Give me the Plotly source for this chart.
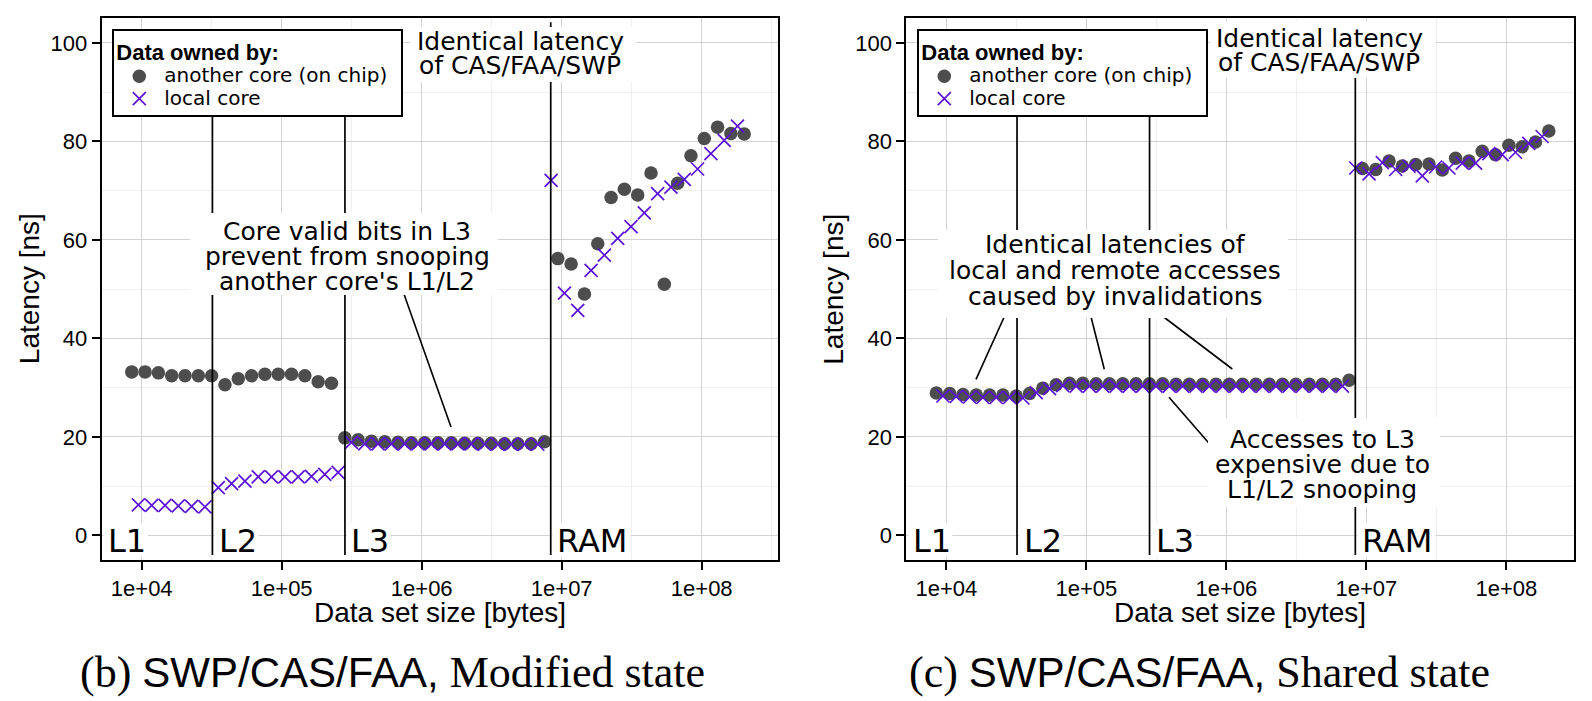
import math
import plotly.graph_objects as go

W, H = 1592, 701

# ---------------- data ----------------
# data set sizes [bytes] of the "another core" measurements (circles)
size_remote = [8490, 10570, 13160, 16380, 20390, 25380, 31590, 39330, 48960, 60940,
               75860, 94430, 117550, 146330, 182150, 226740, 282250, 351350, 437360, 544430,
               677720, 843630, 1050150, 1307230, 1627240, 2025590, 2521460, 3138720, 3907080,
               4863530, 6054120, 7536170, 9381020, 11677490, 14536130, 18094580, 22524130,
               28038040, 34901750, 43445500, 54080960, 67319980, 83800110, 104314400,
               129850600, 161637900, 201206800]
# data set sizes [bytes] of the "local core" measurements (crosses)
size_local = [9470, 11790, 14680, 18270, 22740, 28310, 35240, 43870, 54610, 67970,
              84610, 105330, 131110, 163200, 203150, 252890, 314800, 391860, 487780, 607200,
              755840, 940860, 1171170, 1457880, 1814780, 2259040, 2812040, 3500460, 4357340,
              5424030, 6751920, 8404680, 10462200, 13023000, 16211000, 20179500, 25119400,
              31268600, 38923000, 48451600, 60313300, 75077500, 93455400, 116334000,
              144813000, 180262000]

# (b) Modified state, latency [ns]
mod_remote = [33.2, 33.2, 33.0, 32.4, 32.4, 32.4, 32.4,
              30.6, 31.8, 32.4, 32.7, 32.7, 32.7, 32.4, 31.2, 30.9,
              19.8, 19.4, 19.1, 19.0, 18.9, 18.8, 18.8, 18.8, 18.8, 18.7, 18.7, 18.7, 18.6, 18.6, 18.6, 19.0,
              56.2, 55.1, 49.0, 59.2, 68.6, 70.3, 69.1, 73.6, 51.0, 71.5, 77.1, 80.6, 82.9, 81.6, 81.5]
mod_local = [6.2, 6.1, 6.1, 6.0, 5.9, 5.8,
             9.7, 10.5, 11.0, 11.9, 11.9, 11.9, 11.9, 12.0, 12.4, 12.8,
             18.9, 18.6, 18.6, 18.6, 18.6, 18.6, 18.6, 18.6, 18.6, 18.6, 18.5, 18.5, 18.5, 18.5, 18.5,
             72.1, 49.2, 45.7, 53.8, 56.9, 60.3, 62.7, 65.5, 69.4, 70.7, 72.3, 74.4, 77.5, 80.2, 83.1]

# (c) Shared state, latency [ns]
sh_remote = [28.9, 28.8, 28.6, 28.5, 28.5, 28.5, 28.3,
             28.8, 29.9, 30.6, 30.9, 30.9, 30.8, 30.8, 30.8, 30.8,
             30.8, 30.8, 30.7, 30.7, 30.7, 30.7, 30.7, 30.7, 30.7, 30.7, 30.7, 30.7, 30.7, 30.7, 30.7, 31.5,
             74.5, 74.3, 76.0, 75.0, 75.3, 75.4, 74.2, 76.6, 76.0, 78.0, 77.3, 79.2, 78.9, 79.9, 82.1]
sh_local = [28.3, 28.2, 28.1, 28.0, 28.0, 28.0,
            27.9, 29.0, 29.8, 30.4, 30.3, 30.3, 30.3, 30.3, 30.3, 30.3,
            30.3, 30.3, 30.3, 30.3, 30.3, 30.3, 30.3, 30.3, 30.3, 30.3, 30.3, 30.3, 30.3, 30.3, 30.3,
            74.6, 73.4, 75.7, 74.3, 75.0, 73.0, 74.8, 74.6, 75.6, 75.6, 77.5, 77.3, 77.8, 79.6, 81.0]

# cache level boundaries [bytes] and their labels
level_bounds = [32000, 283000, 8350000]
level_names = ["L1", "L2", "L3", "RAM"]

x_tick_vals = [1e4, 1e5, 1e6, 1e7, 1e8]
x_tick_text = ["1e+04", "1e+05", "1e+06", "1e+07", "1e+08"]
x_minor_vals = [10 ** 4.5, 10 ** 5.5, 10 ** 6.5, 10 ** 7.5, 10 ** 8.5]
y_tick_vals = [0, 20, 40, 60, 80, 100]
y_tick_text = ["0", "20", "40", "60", "80", "100"]
y_minor_vals = [10, 30, 50, 70, 90]

legend_title = "Data owned by:"
series_names = ["another core (on chip)", "local core"]
captions = ["(b) <span style='font-family:Liberation Sans;font-size:42px'>SWP/CAS/FAA,</span> Modified state",
            "(c) <span style='font-family:Liberation Sans;font-size:42px'>SWP/CAS/FAA,</span> Shared state"]

# ---------------- styling / layout ----------------
C_REMOTE = "#4d4d4d"
C_LOCAL = "#5a12d8"
PX_PER_DEC = 140.0
X_LEFT_LOG = 3.7143
YR = [-5, 105]
PLOT_TOP, PLOT_BOT = 18.3, 560.0
PANEL_X = [(101.7, 778.0), (906.3, 1574.0)]
XRS = [[X_LEFT_LOG, X_LEFT_LOG + (b - a) / PX_PER_DEC] for a, b in PANEL_X]


def px(x):
    return x / W


def py(y):
    return 1 - y / H


def xpix(v, p):
    a, b = PANEL_X[p]
    r = XRS[p]
    return a + (math.log10(v) - r[0]) / (r[1] - r[0]) * (b - a)


def legend_name(s):
    # legend entries are drawn at 20px while the legend rows stay compact;
    # a trailing no-break space widens the legend box a little
    return ("<span style='font-size:20px'>" + s + "</span>"
            "<span style='font-size:28px'>\u00a0</span>")


fig = go.Figure()
panels = [(mod_remote, mod_local), (sh_remote, sh_local)]
for p, (yr, yl) in enumerate(panels):
    xa = "x" if p == 0 else "x2"
    ya = "y" if p == 0 else "y2"
    lg = "legend" if p == 0 else "legend2"
    fig.add_trace(go.Scatter(x=size_remote, y=yr, mode="markers", name=legend_name(series_names[0]),
                             xaxis=xa, yaxis=ya, legend=lg,
                             marker=dict(symbol="circle", size=13.5, color=C_REMOTE,
                                         line=dict(width=0))))
    fig.add_trace(go.Scatter(x=size_local, y=yl, mode="markers", name=legend_name(series_names[1]),
                             xaxis=xa, yaxis=ya, legend=lg,
                             marker=dict(symbol="x-thin", size=13, color=C_LOCAL,
                                         line=dict(width=1.7, color=C_LOCAL))))

axis_common = dict(showline=True, mirror=True, linecolor="black", linewidth=2,
                   ticks="outside", ticklen=8, tickwidth=2, tickcolor="black",
                   showgrid=True, gridcolor="#d2d2d2", gridwidth=1.3, zeroline=False,
                   tickfont=dict(family="Liberation Sans", size=22, color="black"))

ydom = [py(PLOT_BOT), py(PLOT_TOP)]
layout_axes = {}
for p in range(2):
    sfx = "" if p == 0 else "2"
    layout_axes["xaxis" + sfx] = dict(type="log", range=XRS[p], domain=[px(PANEL_X[p][0]), px(PANEL_X[p][1])],
                                     tickvals=x_tick_vals, ticktext=x_tick_text,
                                     anchor="y" + sfx,
                                     minor=dict(tickvals=x_minor_vals, showgrid=True,
                                                gridcolor="#efefef", gridwidth=1, ticks=""),
                                     **axis_common)
    layout_axes["yaxis" + sfx] = dict(range=YR, domain=ydom, tickvals=y_tick_vals, ticktext=y_tick_text,
                                     anchor="x" + sfx,
                                     minor=dict(tickvals=y_minor_vals, showgrid=True,
                                                gridcolor="#efefef", gridwidth=1, ticks=""),
                                     **axis_common)

shapes = []
annotations = []

# vertical cache-boundary lines (L2/L3 lines end under the legend)
line_tops = [100, 100, 104.2]
for p in range(2):
    xa = "x" if p == 0 else "x2"
    ya = "y" if p == 0 else "y2"
    for b, top in zip(level_bounds, line_tops):
        shapes.append(dict(type="line", xref=xa, yref=ya, x0=b, x1=b, y0=-4, y1=top,
                           line=dict(color="black", width=1.7), layer="above"))


def seg(x0, y0, x1, y1):
    shapes.append(dict(type="line", xref="paper", yref="paper", x0=px(x0), y0=py(y0),
                       x1=px(x1), y1=py(y1), line=dict(color="black", width=1.6), layer="above"))


def box(x0, y0, x1, y1):
    shapes.append(dict(type="rect", xref="paper", yref="paper", x0=px(x0), y0=py(y0),
                       x1=px(x1), y1=py(y1), fillcolor="white", line=dict(width=0), layer="above"))


def text_line(txt, cx, baseline, size=25, family="DejaVu Sans", anchor="center"):
    annotations.append(dict(text=txt, xref="paper", yref="paper", x=px(cx),
                            y=py(baseline - 0.3465 * size), xanchor=anchor, yanchor="middle",
                            showarrow=False, font=dict(family=family, size=size, color="black")))


# leader lines (drawn before the label boxes)
seg(399, 280, 451, 427)
seg(1009.6, 305, 976, 379.3)
seg(1088, 305, 1104.3, 369.3)
seg(1147.9, 305, 1232.3, 369)
seg(1169, 397.3, 1214, 449)

# label boxes
box(410, 27, 636, 82)
box(1210, 21, 1436, 78)
box(190, 213, 498, 295)
box(938, 230, 1288, 318)
box(1208, 418, 1440, 507)

# cache level labels with boxes
lvl_w = {"L1": 44, "L2": 44, "L3": 44, "RAM": 78}
for p in range(2):
    starts = [PANEL_X[p][0]] + [xpix(b, p) for b in level_bounds]
    for name, s in zip(level_names, starts):
        box(s + 2, 523, s + 2 + lvl_w[name], 557)
        text_line(name, s + 4.5, 552.5, size=32, anchor="left")

# text labels
text_line("Identical latency", 520, 50)
text_line("of CAS/FAA/SWP", 520, 74)
text_line("Identical latency", 1319, 47)
text_line("of CAS/FAA/SWP", 1319, 71)
text_line("Core valid bits in L3", 347, 240)
text_line("prevent from snooping", 347, 265)
text_line("another core's L1/L2", 347, 290)
text_line("Identical latencies of", 1115, 253)
text_line("local and remote accesses", 1115, 279)
text_line("caused by invalidations", 1115, 305)
text_line("Accesses to L3", 1322, 448)
text_line("expensive due to", 1322, 473)
text_line("L1/L2 snooping", 1322, 498)

# axis titles
for p in range(2):
    a, b = PANEL_X[p]
    annotations.append(dict(text="Data set size [bytes]", xref="paper", yref="paper",
                            x=px((a + b) / 2), y=py(612.3), xanchor="center", yanchor="middle",
                            showarrow=False, font=dict(family="Liberation Sans", size=28, color="black")))
    annotations.append(dict(text="Latency [ns]", xref="paper", yref="paper", textangle=-90,
                            x=px(a - 72.7), y=py((PLOT_TOP + PLOT_BOT) / 2), xanchor="center",
                            yanchor="middle", showarrow=False,
                            font=dict(family="Liberation Sans", size=28, color="black")))

# captions
for cx, cap in zip([392.5, 1199.5], captions):
    annotations.append(dict(text=cap, xref="paper", yref="paper", x=px(cx), y=py(672.6),
                            xanchor="center", yanchor="middle", showarrow=False,
                            font=dict(family="Liberation Serif", size=44, color="black")))

legend_common = dict(xanchor="left", yanchor="top", bgcolor="white", bordercolor="black",
                     borderwidth=2, traceorder="normal", tracegroupgap=0, itemwidth=40,
                     title=dict(text="<b>" + legend_title + "</b>",
                                font=dict(family="Liberation Sans", size=22, color="black")),
                     font=dict(family="DejaVu Sans", size=15, color="black"))

fig.update_layout(width=W, height=H, margin=dict(l=0, r=0, t=0, b=0),
                  plot_bgcolor="white", paper_bgcolor="white", showlegend=True,
                  legend=dict(x=px(112.3), y=py(29.3), **legend_common),
                  legend2=dict(x=px(917.3), y=py(29.3), **legend_common),
                  shapes=shapes, annotations=annotations, **layout_axes)

fig.write_html("out.html", config={"displayModeBar": False},
               post_script="document.body.style.margin='0';document.body.style.overflow='hidden';")
